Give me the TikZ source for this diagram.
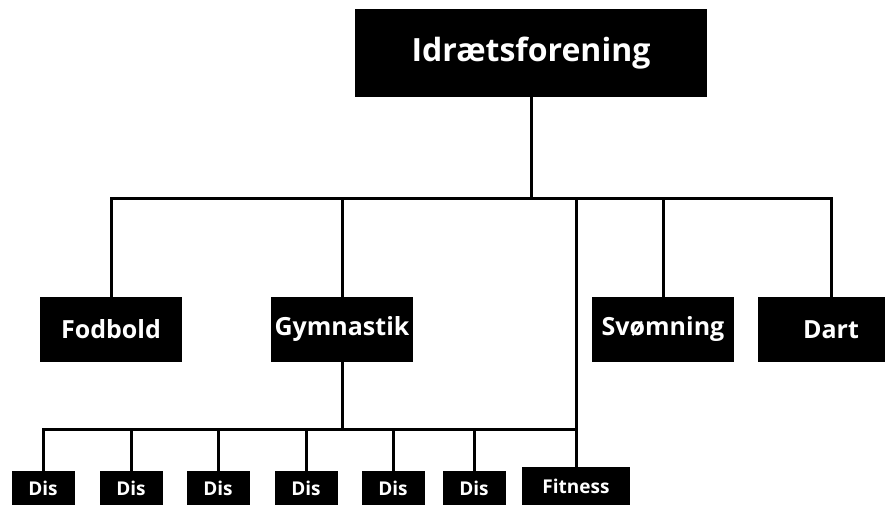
\documentclass[tikz,border=0pt]{standalone}
\usepackage{fontspec}
\setmainfont{Open Sans}
\begin{document}
\begin{tikzpicture}[x=1pt,y=-1pt,
  box/.style={fill=black,text=white,inner sep=0pt},
  topbox/.style={box,minimum width=352,minimum height=88,font=\bfseries\fontsize{32}{32}\selectfont},
  midbox/.style={box,minimum width=142,minimum height=65,font=\bfseries\fontsize{25}{25}\selectfont},
  disbox/.style={box,minimum width=63,minimum height=34,font=\bfseries\fontsize{19}{19}\selectfont},
  conn/.style={line width=3pt,draw=black}]
\useasboundingbox (0,0) rectangle (885,505);
\clip (0,0) rectangle (885,505);
\node[topbox] (top) at (531,53) {Idrætsforening};
\node[midbox] (fod) at (111,329.5) {Fodbold};
\node[midbox] (gym) at (342,329.5) {Gymnastik};
\node[midbox] (svo) at (663,329.5) {Svømning};
\node[midbox,minimum width=146] (dart) at (831,329.5) {Dart};
\node[disbox] (d1) at (43,488) {Dis};
\node[disbox] (d2) at (131,488) {Dis};
\node[disbox] (d3) at (218,488) {Dis};
\node[disbox] (d4) at (306,488) {Dis};
\node[disbox] (d5) at (393,488) {Dis};
\node[disbox] (d6) at (474,488) {Dis};
\node[disbox,minimum width=108,minimum height=38] (fit) at (576,486) {Fitness};
\coordinate (bus1) at (531,198);
\coordinate (bus2) at (342,429);
\draw[conn] (top.south) -- (bus1);
\draw[conn] (fod.north) |- (bus1);
\draw[conn] (gym.north) |- (bus1);
\draw[conn] (svo.north) |- (bus1);
\draw[conn] (dart.north) |- (bus1);
\draw[conn] (fit.north) |- (bus1);
\draw[conn] (gym.south) -- (bus2);
\draw[conn] (d1.north) |- (bus2);
\draw[conn] (d2.north) |- (bus2);
\draw[conn] (d3.north) |- (bus2);
\draw[conn] (d4.north) |- (bus2);
\draw[conn] (d5.north) |- (bus2);
\draw[conn] (d6.north) |- (bus2);
\draw[conn] (bus2) -- (bus2 -| fit.north);
\end{tikzpicture}
\end{document}
